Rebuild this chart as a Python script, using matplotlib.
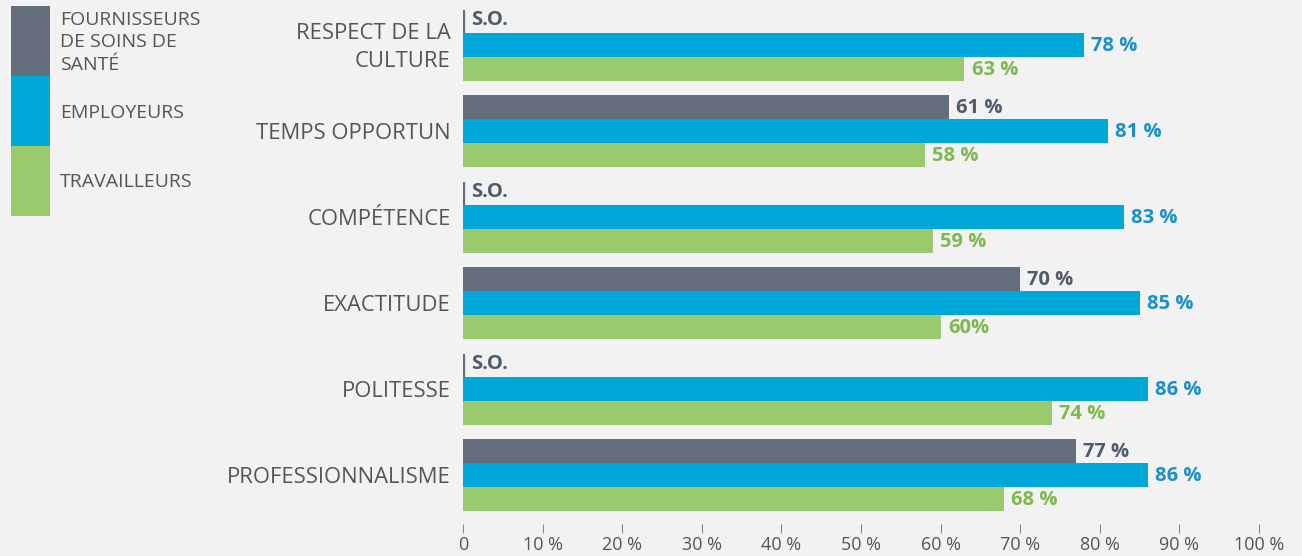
import numpy as np
import matplotlib.pyplot as plt
from matplotlib.patches import Rectangle

# donnees
categories = ['RESPECT DE LA\nCULTURE', 'TEMPS OPPORTUN', 'COMPÉTENCE',
              'EXACTITUDE', 'POLITESSE', 'PROFESSIONNALISME']
fournisseurs = [None, 61, None, 70, None, 77]   # None = S.O.
employeurs = [78, 81, 83, 85, 86, 86]
travailleurs = [63, 58, 59, 60, 74, 68]
lab_fourn = ['S.O.', '61 %', 'S.O.', '70 %', 'S.O.', '77 %']
lab_empl = ['78 %', '81 %', '83 %', '85 %', '86 %', '86 %']
lab_trav = ['63 %', '58 %', '59 %', '60%', '74 %', '68 %']
series_names = ['FOURNISSEURS\nDE SOINS DE\nSANTÉ', 'EMPLOYEURS', 'TRAVAILLEURS']
ticks = np.arange(0, 101, 10)
tick_labels = ['0'] + ['%d %%' % t for t in ticks[1:]]

c_gray = '#636d7b'
c_blue = '#00a8da'
c_green = '#9aca6e'
t_gray = '#4e5b6b'
t_blue = '#1a90cb'
t_green = '#7cba4a'
bg = '#f2f2f2'
txt = '#555555'

W, H = 1302, 556
fig = plt.figure(figsize=(W / 100, H / 100), dpi=100, facecolor=bg)
plt.rcParams['font.family'] = ['Open Sans', 'DejaVu Sans']

# axes: 0 % a x=463 px, 100 % a x=1259 px
ax = fig.add_axes([463 / W, 1 - 524 / H, (1259 - 463) / W, 524 / H])
ax.set_facecolor(bg)
gap = 86.0
ax.set_xlim(0, 100)
ax.set_ylim((524 - 45) / gap, -45 / gap)

y = np.arange(len(categories))
h = 24 / gap
f_vals = [v if v is not None else 0 for v in fournisseurs]
ax.barh(y - h, f_vals, height=h, color=c_gray)
ax.barh(y, employeurs, height=h, color=c_blue)
ax.barh(y + h, travailleurs, height=h, color=c_green)

fs_val = 14.5
for i in range(len(categories)):
    if fournisseurs[i] is None:
        ax.plot([0.15, 0.15], [i - h * 1.45, i - h / 2], color=c_gray, lw=1.6,
                solid_capstyle='butt')
        ax.text(1.0, i - h * 1.05, lab_fourn[i], color=t_gray, fontsize=fs_val,
                fontweight='bold', va='center', ha='left')
    else:
        ax.text(fournisseurs[i] + 0.9, i - h * 0.95, lab_fourn[i], color=t_gray,
                fontsize=fs_val, fontweight='bold', va='center', ha='left')
    ax.text(employeurs[i] + 0.9, i + h * 0.05, lab_empl[i], color=t_blue,
            fontsize=fs_val, fontweight='bold', va='center', ha='left')
    ax.text(travailleurs[i] + 0.9, i + h * 1.05, lab_trav[i], color=t_green,
            fontsize=fs_val, fontweight='bold', va='center', ha='left')
    ax.text(-1.55, i + 0.03, categories[i], color=txt, fontsize=15.8, ha='right',
            va='center', linespacing=1.4)

for s in ax.spines.values():
    s.set_visible(False)
ax.set_yticks([])
ax.set_xticks(ticks)
ax.set_xticklabels(tick_labels, fontsize=13, color=txt)
ax.tick_params(axis='x', length=6.5, width=0.8, color='#888888', pad=2)

# legende
lg = fig.add_axes([0, 0, 1, 1])
lg.set_xlim(0, W)
lg.set_ylim(H, 0)
lg.axis('off')
lg.patch.set_alpha(0)
colors = [c_gray, c_blue, c_green]
tops = [6, 76, 146]
text_y = [11, 104, 173]
for c, t, ty, name in zip(colors, tops, text_y, series_names):
    lg.add_patch(Rectangle((11, t), 39, 70, color=c, lw=0))
    lg.text(60, ty, name, color=txt, fontsize=14, ha='left', va='top',
            linespacing=1.32)

fig.savefig('out.png', dpi=100, facecolor=bg)
